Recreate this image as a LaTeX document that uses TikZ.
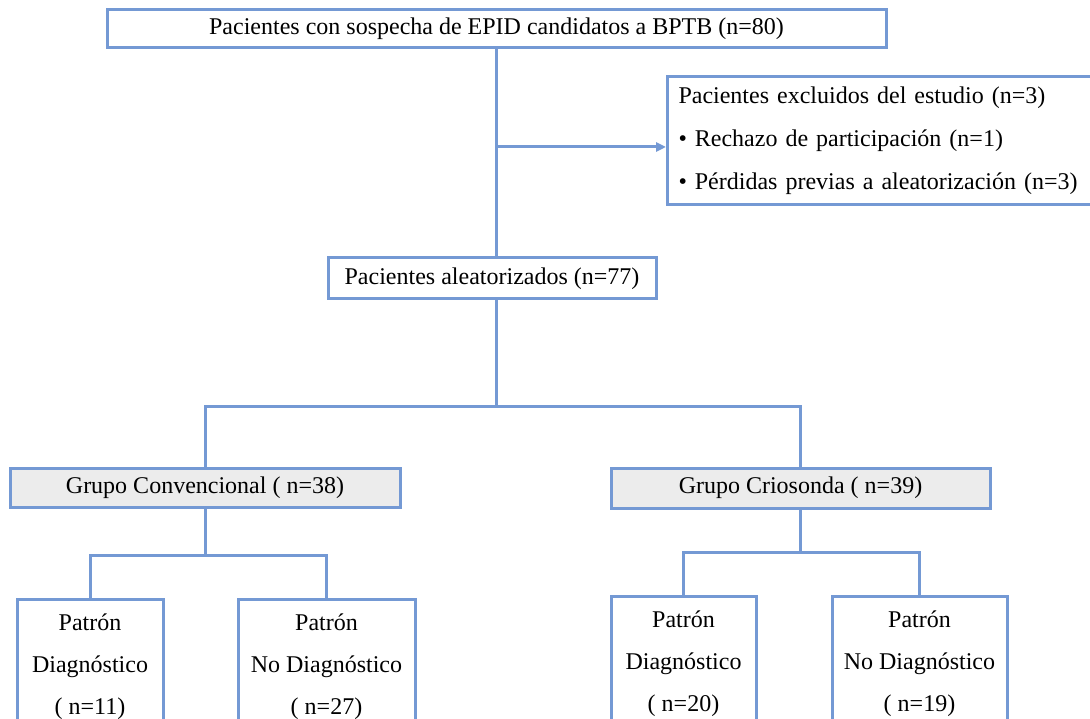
\documentclass[tikz,border=0pt]{standalone}
\usepackage{fontspec}
\setmainfont{Liberation Serif}
\usepackage{tikz}
\usetikzlibrary{arrows.meta, positioning, calc}
\definecolor{flowblue}{RGB}{116, 153, 212}
\definecolor{groupgray}{RGB}{236, 236, 236}

\begin{document}
\begin{tikzpicture}[
    x=1pt, y=-1pt,
    box/.style={rectangle, draw=flowblue, line width=3pt, fill=white, inner sep=0pt, font=\fontsize{24}{28}\selectfont},
    groupbox/.style={box, fill=groupgray},
    leafbox/.style={box, anchor=north, align=center, inner ysep=14pt, font=\fontsize{24}{42}\selectfont},
    link/.style={draw=flowblue, line width=3pt},
    arr/.style={link, -{Triangle[length=10pt, width=9pt]}}
]
\useasboundingbox (0,0) rectangle (1090,719);

\node[box, minimum width=779pt, minimum height=38pt] (top) at (496.5, 29) {Pacientes con sospecha de EPID candidatos a BPTB (n=80)};
\node[box, anchor=north west, align=left, text width=440pt, inner xsep=11pt, inner ysep=9pt, minimum height=128pt, font=\fontsize{24}{43}\selectfont] (excl) at (666, 75) {Pacientes excluidos del estudio (n=3)\\
• Rechazo de participación (n=1)\\
• Pérdidas previas a aleatorización (n=3)};
\node[box, minimum width=328pt, minimum height=41pt] (rand) at (492, 278.5) {Pacientes aleatorizados (n=77)};

% groups
\node[groupbox, minimum width=390pt, minimum height=39pt] (conv) at (205, 487.5) {Grupo Convencional ( n=38)};
\node[groupbox, minimum width=379pt, minimum height=40pt] (crio) at (800.5, 488) {Grupo Criosonda ( n=39)};

% leaves
\node[leafbox, minimum width=146pt] (convd) at (90, 598) {Patrón\\Diagnóstico\\( n=11)};
\node[leafbox, minimum width=177pt] (convn) at (326.5, 598) {Patrón\\No Diagnóstico\\( n=27)};
\node[leafbox, minimum width=145pt] (criod) at (683.5, 595) {Patrón\\Diagnóstico\\( n=20)};
\node[leafbox, minimum width=175pt] (crion) at (919.5, 595) {Patrón\\No Diagnóstico\\( n=19)};

% connectors
\coordinate (exit) at (top.south |- 0,147);
\draw[link] (top.south) -- (top.south |- rand.north);
\draw[arr] (exit) -- (exit -| excl.west);

\coordinate (split) at (top.south |- 0,406);
\draw[link] (top.south |- rand.south) -- (split);
\draw[link] (conv.north) |- (split) -| (crio.north);

\draw[link] (conv.south) -- (conv.south |- 0,555);
\draw[link] (convd.north) |- (conv.south |- 0,555) -| (convn.north);
\draw[link] (crio.south) -- (crio.south |- 0,552);
\draw[link] (criod.north) |- (crio.south |- 0,552) -| (crion.north);

\end{tikzpicture}
\end{document}
